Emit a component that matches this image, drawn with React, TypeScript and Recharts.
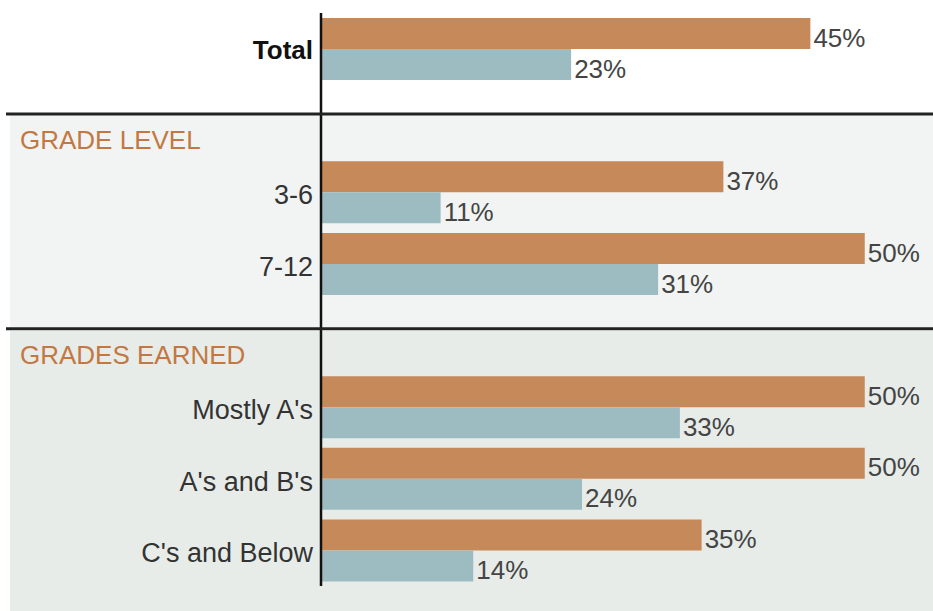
import React from "react"
import { BarChart, Bar, XAxis, YAxis, LabelList } from "recharts"

const categories = ["Total", "GRADE LEVEL", "3-6", "7-12", "GRADES EARNED", "Mostly A's", "A's and B's", "C's and Below"]
const headers = ["GRADE LEVEL", "GRADES EARNED"]
const orangeValues = [45, null, 37, 50, null, 50, 50, 35]
const blueValues = [23, null, 11, 31, null, 33, 24, 14]

const data = categories.map((name, i) => ({ name, a: orangeValues[i], b: blueValues[i] }))

const FONT = "'Liberation Sans', Arial, sans-serif"
const ORANGE = "#c68a5a"
const BLUE = "#9dbcc2"

function Tick(props: any) {
  const { x, y, payload } = props
  const v = payload.value
  if (headers.includes(v)) {
    return (
      <g>
        <line x1={6} x2={933} y1={y - 6.5} y2={y - 6.5} stroke="#222" strokeWidth={3} />
        <text x={20} y={y + 29} fontSize={26} fill="#c27843" fontFamily={FONT}>
          {v}
        </text>
      </g>
    )
  }
  const bold = v === "Total"
  return (
    <text
      x={x}
      y={y}
      dy={bold ? 10 : 12}
      textAnchor="end"
      fontSize={bold ? 26 : 27}
      fontWeight={bold ? 700 : 400}
      fill={bold ? "#111" : "#333"}
      fontFamily={FONT}
    >
      {v}
    </text>
  )
}

const fmt = (v: any) => (v == null ? "" : `${v}%`)

export default function App() {
  return (
    <div style={{ position: "absolute", left: 0, top: 0, width: 933, height: 611, background: "#fff" }}>
      <div style={{ position: "absolute", left: 10, top: 115, right: 0, height: 213, background: "#f1f4f2" }} />
      <div style={{ position: "absolute", left: 10, top: 331, right: 0, bottom: 0, background: "#e7ece9" }} />
      <div style={{ position: "absolute", left: 0, top: 0 }}>
        <BarChart
          width={933}
          height={611}
          data={data}
          layout="vertical"
          margin={{ top: 13, right: 3, bottom: 25, left: 0 }}
          barCategoryGap={5}
          barGap={0}
        >
          <XAxis type="number" domain={[0, 56]} hide />
          <YAxis
            type="category"
            dataKey="name"
            width={321}
            tickLine={false}
            axisLine={{ stroke: "#111", strokeWidth: 2.5 }}
            tick={<Tick />}
            interval={0}
          />
          <Bar dataKey="a" fill={ORANGE} isAnimationActive={false}>
            <LabelList
              dataKey="a"
              position="right"
              offset={3}
              dy={4}
              formatter={fmt}
              style={{ fontSize: 26, fill: "#444", fontFamily: FONT }}
            />
          </Bar>
          <Bar dataKey="b" fill={BLUE} isAnimationActive={false}>
            <LabelList
              dataKey="b"
              position="right"
              offset={3}
              dy={4}
              formatter={fmt}
              style={{ fontSize: 26, fill: "#444", fontFamily: FONT }}
            />
          </Bar>
        </BarChart>
      </div>
    </div>
  )
}
